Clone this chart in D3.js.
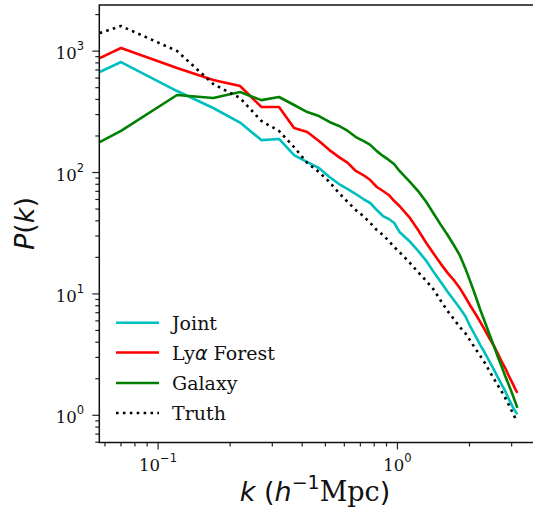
<!DOCTYPE html>
<html>
<head>
<meta charset="utf-8">
<script src="https://cdn.jsdelivr.net/npm/d3@7"></script>
<style>
  html, body { margin: 0; padding: 0; background: #fff; }
  svg { display: block; }
</style>
</head>
<body>
<svg id="chart" width="533" height="521"></svg>
<script>
// k bins (h/Mpc), first value is where the curves enter the axes
const kValues = [0.057, 0.07, 0.12, 0.17, 0.22, 0.27, 0.32, 0.37, 0.42, 0.47, 0.52, 0.57, 0.62, 0.67, 0.72,
  0.77, 0.82, 0.87, 0.92, 0.97, 1.02, 1.12, 1.22, 1.32, 1.42, 1.52, 1.62, 1.72, 1.82, 1.92, 2.02,
  2.12, 2.22, 2.32, 2.42, 2.52, 2.62, 2.72, 2.82, 2.92, 3.02, 3.12, 3.17];

const joint = [673, 813, 469, 340, 258, 185, 189, 139, 122, 109, 91.8, 80.4, 73.1, 66.5, 60.5,
  56.1, 49.1, 43.8, 41.4, 38.4, 32.4, 27.3, 22.6, 18.7, 15.1, 12.5, 10.4, 8.91, 7.65, 6.58, 5.34,
  4.50, 3.79, 3.26, 2.80, 2.41, 2.07, 1.81, 1.58, 1.36, 1.19, 1.06, 1.02];

const lyaForest = [877, 1061, 726, 578, 516, 347, 347, 233, 216, 182, 153, 134, 120, 103, 95.3,
  86.7, 76.0, 70.4, 65.3, 58.2, 53.0, 43.0, 33.6, 26.3, 21.3, 17.6, 14.9, 13.0, 11.2, 9.43, 7.95,
  6.83, 5.87, 5.04, 4.33, 3.79, 3.26, 2.80, 2.45, 2.11, 1.85, 1.62, 1.53];

const galaxy = [178, 220, 435, 411, 460, 395, 419, 360, 315, 292, 261, 242, 220, 196, 182,
  169, 150, 137, 127, 117, 103, 85.1, 70.4, 57.1, 45.5, 36.9, 30.6, 25.3, 20.9, 16.3, 12.5,
  9.61, 7.37, 5.87, 4.67, 3.79, 3.08, 2.55, 2.11, 1.78, 1.50, 1.26, 1.15];

const truth = [1409, 1610, 1002, 536, 411, 266, 220, 162, 120, 101, 83.5, 67.8, 57.1, 49.1, 43.8,
  38.4, 33.6, 30.6, 27.3, 24.3, 22.1, 18.3, 15.1, 12.8, 10.8, 8.74, 7.23, 6.21, 5.34, 4.76, 4.09,
  3.52, 3.08, 2.70, 2.32, 2.03, 1.78, 1.58, 1.39, 1.22, 1.06, 0.932, 0.881];

const seriesNames = ["Joint", "Ly\u03b1 Forest", "Galaxy", "Truth"];
const seriesColors = ["#00bfbf", "#ff0000", "#008000", "#000000"];

const svg = d3.select("#chart");
const margin = { left: 99.3, top: 5, right: 534, bottom: 442.5 };

const x = d3.scaleLog().domain([0.0568, 3.72]).range([margin.left, margin.right]);
const y = d3.scaleLog().domain([0.597, 2399]).range([margin.bottom, margin.top]);

const series = [joint, lyaForest, galaxy, truth].map((vals, i) => ({
  name: seriesNames[i],
  color: seriesColors[i],
  dotted: seriesNames[i] === "Truth",
  points: kValues.map((k, j) => ({ k, p: vals[j] }))
}));

svg.append("clipPath").attr("id", "plot-clip")
  .append("rect")
  .attr("x", margin.left).attr("y", margin.top)
  .attr("width", margin.right - margin.left).attr("height", margin.bottom - margin.top);

const line = d3.line().x(d => x(d.k)).y(d => y(d.p));

svg.append("g").attr("clip-path", "url(#plot-clip)")
  .selectAll("path")
  .data(series)
  .enter()
  .append("path")
  .attr("d", d => line(d.points))
  .attr("fill", "none")
  .attr("stroke", d => d.color)
  .attr("stroke-width", 2.6)
  .attr("stroke-linejoin", "round")
  .attr("stroke-dasharray", d => d.dotted ? "2.6,4.3" : null);

// ticks
const isMajor = v => Math.abs(Math.log10(v) - Math.round(Math.log10(v))) < 1e-6;
const tickColor = "#222";

const xg = svg.append("g");
x.ticks().forEach(t => {
  const px = x(t);
  if (px < margin.left - 0.5 || px > 532) return;
  xg.append("line")
    .attr("x1", px).attr("x2", px)
    .attr("y1", margin.bottom).attr("y2", margin.bottom + (isMajor(t) ? 7 : 4))
    .attr("stroke", tickColor).attr("stroke-width", 1.2);
  if (isMajor(t)) {
    const txt = xg.append("text")
      .attr("x", px).attr("y", 471)
      .attr("text-anchor", "middle")
      .style("font-family", "DejaVu Serif")
      .style("font-size", "16.5px")
      .attr("fill", "#111");
    txt.append("tspan").text("10");
    txt.append("tspan").attr("dy", -9).style("font-size", "11.5px")
      .style("font-family", "DejaVu Sans")
      .text(Math.round(Math.log10(t)).toString().replace("-", "\u2212"));
  }
});

const yg = svg.append("g");
y.ticks().forEach(t => {
  const py = y(t);
  if (py > margin.bottom + 0.5 || py < margin.top) return;
  yg.append("line")
    .attr("x1", margin.left).attr("x2", margin.left - (isMajor(t) ? 7 : 4))
    .attr("y1", py).attr("y2", py)
    .attr("stroke", tickColor).attr("stroke-width", 1.2);
  if (isMajor(t)) {
    const txt = yg.append("text")
      .attr("x", 84).attr("y", py + 8)
      .attr("text-anchor", "end")
      .style("font-family", "DejaVu Serif")
      .style("font-size", "16.5px")
      .attr("fill", "#111");
    txt.append("tspan").text("10");
    txt.append("tspan").attr("dy", -9).style("font-size", "11.5px")
      .style("font-family", "DejaVu Sans")
      .text(Math.round(Math.log10(t)).toString().replace("-", "\u2212"));
  }
});

// spines
svg.append("rect")
  .attr("x", margin.left).attr("y", margin.top)
  .attr("width", margin.right - margin.left).attr("height", margin.bottom - margin.top)
  .attr("fill", "none").attr("stroke", "#111").attr("stroke-width", 1.5);

// axis labels
const xl = svg.append("text")
  .attr("x", 315).attr("y", 501)
  .attr("text-anchor", "middle")
  .style("font-family", "DejaVu Sans")
  .style("font-size", "27px")
  .attr("fill", "#111");
xl.append("tspan").style("font-style", "italic").text("k");
xl.append("tspan").text(" (");
xl.append("tspan").style("font-style", "italic").text("h");
xl.append("tspan").attr("dy", -12).style("font-size", "19px").text("\u22121");
xl.append("tspan").attr("dy", 12).style("font-family", "DejaVu Serif").text("Mpc");
xl.append("tspan").text(")");

const yl = svg.append("text")
  .attr("transform", "translate(34,223.5) rotate(-90)")
  .attr("text-anchor", "middle")
  .style("font-family", "DejaVu Sans")
  .style("font-size", "27px")
  .attr("fill", "#111");
yl.append("tspan").style("font-style", "italic").text("P");
yl.append("tspan").text("(");
yl.append("tspan").style("font-style", "italic").text("k");
yl.append("tspan").text(")");

// legend
const legend = svg.append("g");
const legendY = [322.7, 352.5, 383, 413];
series.forEach((s, i) => {
  legend.append("line")
    .attr("x1", 116).attr("x2", 159)
    .attr("y1", legendY[i]).attr("y2", legendY[i])
    .attr("stroke", s.color).attr("stroke-width", 2.6)
    .attr("stroke-dasharray", s.dotted ? "2.6,4.3" : null);
  const t = legend.append("text")
    .attr("x", 172).attr("y", legendY[i] + 7)
    .style("font-family", "DejaVu Serif")
    .style("font-size", "19px")
    .attr("fill", "#111");
  if (s.name.includes("\u03b1")) {
    t.append("tspan").text("Ly");
    t.append("tspan").style("font-family", "DejaVu Sans").style("font-style", "italic").text("\u03b1");
    t.append("tspan").text(" Forest");
  } else {
    t.text(s.name);
  }
});
</script>
</body>
</html>
